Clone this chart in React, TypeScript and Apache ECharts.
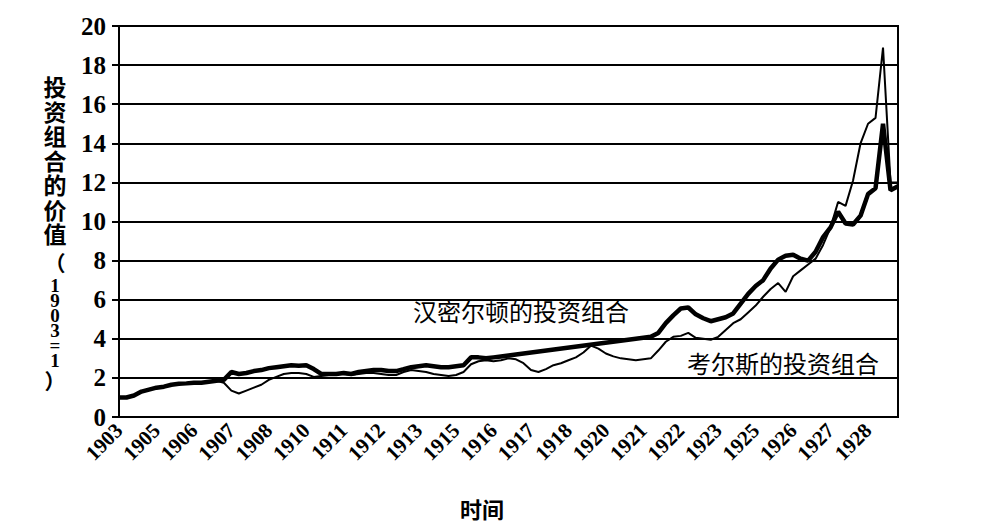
import React, { useEffect, useRef } from "react";
import * as echarts from "echarts";

const yearLabels = [
  "1903", "1905", "1906", "1907", "1908", "1910", "1911", "1912", "1913", "1915", "1916",
  "1917", "1918", "1920", "1921", "1922", "1923", "1925", "1926", "1927", "1928",
];

// Hamilton portfolio (thick line); nulls = straight connected stretch
const hamilton: (number | null)[] = [
  1.0, 1.0, 1.1, 1.3, 1.4, 1.5, 1.55, 1.65, 1.7, 1.72,
  1.75, 1.75, 1.8, 1.85, 1.9, 2.3, 2.2, 2.25, 2.35, 2.4,
  2.5, 2.55, 2.6, 2.65, 2.62, 2.65, 2.45, 2.2, 2.2, 2.2,
  2.25, 2.2, 2.3, 2.35, 2.4, 2.4, 2.35, 2.35, 2.45, 2.55,
  2.6, 2.65, 2.6, 2.55, 2.55, 2.6, 2.65, 3.05, 3.05, 3.0,
  3.05, 3.1, 3.15, 3.2, null, null, null, null, null, null,
  null, null, null, null, null, null, null, null, null, 4.0,
  4.05, 4.1, 4.3, 4.8, 5.2, 5.55, 5.6, 5.25, 5.05, 4.9,
  5.0, 5.1, 5.3, 5.8, 6.3, 6.7, 7.0, 7.6, 8.05, 8.25,
  8.3, 8.1, 8.0, 8.45, 9.2, 9.7, 10.5, 9.9, 9.85, 10.3,
  11.4, 11.7, 15.0, 11.6, 11.8,
];

// Cowles portfolio (thin line)
const cowles: number[] = [
  1.0, 1.0, 1.1, 1.3, 1.4, 1.5, 1.55, 1.65, 1.7, 1.72,
  1.75, 1.75, 1.8, 1.85, 1.75, 1.35, 1.2, 1.35, 1.5, 1.65,
  1.9, 2.05, 2.2, 2.25, 2.25, 2.2, 2.05, 2.1, 2.15, 2.2,
  2.2, 2.15, 2.2, 2.25, 2.25, 2.2, 2.15, 2.15, 2.3, 2.4,
  2.35, 2.3, 2.2, 2.15, 2.1, 2.15, 2.3, 2.7, 2.85, 2.9,
  2.85, 2.9, 3.0, 2.95, 2.75, 2.4, 2.3, 2.45, 2.65, 2.75,
  2.9, 3.05, 3.3, 3.65, 3.5, 3.25, 3.1, 3.0, 2.95, 2.9,
  2.95, 3.0, 3.4, 3.85, 4.1, 4.15, 4.3, 4.05, 4.0, 3.95,
  4.1, 4.45, 4.8, 5.0, 5.35, 5.7, 6.15, 6.55, 6.85, 6.4,
  7.2, 7.5, 7.8, 8.1, 8.8, 9.7, 11.0, 10.8, 12.1, 14.0,
  15.0, 15.3, 18.9, 12.0, 12.0,
];

const yTitleChars = ["投", "资", "组", "合", "的", "价", "值"];
const yTitleUnitChars = ["（", "1", "9", "0", "3", "=", "1", "）"];

const POINTS_PER_LABEL = 5;
const categories = cowles.map((_, i) =>
  i % POINTS_PER_LABEL === 0 ? yearLabels[i / POINTS_PER_LABEL] ?? "" : ""
);

const serif = "Liberation Serif";
const cjk = "Noto Sans CJK SC";

export default function App() {
  const ref = useRef<HTMLDivElement>(null);
  useEffect(() => {
    if (!ref.current) return;
    const chart = echarts.init(ref.current, undefined, { renderer: "svg" });

    const titleGraphics = yTitleChars.map((ch, k) => ({
      type: "text",
      x: 55,
      y: 86 + k * 24.5,
      style: {
        text: ch,
        fontFamily: cjk,
        fontWeight: "bold",
        fontSize: 23,
        fill: "#000",
        align: "center",
        verticalAlign: "middle",
      },
    }));
    const unitYs = [262, 285, 300, 315, 330, 345, 360, 380];
    const unitGraphics = yTitleUnitChars.map((ch, k) => ({
      type: "text",
      x: 55,
      y: unitYs[k],
      style: {
        text: ch,
        fontFamily: k === 0 || k === yTitleUnitChars.length - 1 ? cjk : serif,
        fontWeight: "bold",
        fontSize: k === 0 || k === yTitleUnitChars.length - 1 ? 21 : 19,
        fill: "#000",
        align: "center",
        verticalAlign: "middle",
      },
    }));

    chart.setOption({
      animation: false,
      grid: {
        left: 119,
        right: 99,
        top: 26,
        bottom: 115,
        show: true,
        borderColor: "#000",
        borderWidth: 2,
      },
      xAxis: {
        type: "category",
        boundaryGap: false,
        data: categories,
        axisLine: { lineStyle: { color: "#000", width: 2 } },
        axisTick: { show: false },
        axisLabel: {
          interval: POINTS_PER_LABEL - 1,
          rotate: 45,
          margin: 10,
          showMinLabel: true,
          showMaxLabel: true,
          color: "#000",
          fontFamily: serif,
          fontWeight: "bold",
          fontSize: 21,
        },
      },
      yAxis: {
        type: "value",
        min: 0,
        max: 20,
        interval: 2,
        axisLine: { show: true, lineStyle: { color: "#000", width: 2 } },
        axisTick: { show: true, length: 7, lineStyle: { color: "#000", width: 2 } },
        splitLine: { lineStyle: { color: "#000", width: 2 } },
        axisLabel: {
          margin: 13,
          showMinLabel: true,
          showMaxLabel: true,
          color: "#000",
          fontFamily: serif,
          fontWeight: "bold",
          fontSize: 25,
        },
      },
      series: [
        {
          name: "汉密尔顿的投资组合",
          type: "line",
          data: hamilton,
          connectNulls: true,
          showSymbol: false,
          lineStyle: { color: "#000", width: 4.5 },
          z: 3,
        },
        {
          name: "考尔斯的投资组合",
          type: "line",
          data: cowles,
          showSymbol: false,
          lineStyle: { color: "#000", width: 2 },
          z: 4,
        },
      ],
      graphic: [
        ...titleGraphics,
        ...unitGraphics,
        {
          type: "text",
          x: 413,
          y: 310,
          style: {
            text: "汉密尔顿的投资组合",
            fontFamily: cjk,
            fontSize: 24,
            fill: "#000",
            align: "left",
            verticalAlign: "middle",
          },
        },
        {
          type: "text",
          x: 687,
          y: 362,
          style: {
            text: "考尔斯的投资组合",
            fontFamily: cjk,
            fontSize: 24,
            fill: "#000",
            align: "left",
            verticalAlign: "middle",
          },
        },
        {
          type: "text",
          x: 482,
          y: 508,
          style: {
            text: "时间",
            fontFamily: cjk,
            fontWeight: "bold",
            fontSize: 22,
            fill: "#000",
            align: "center",
            verticalAlign: "middle",
          },
        },
      ],
    });
    return () => chart.dispose();
  }, []);
  return <div ref={ref} style={{ position: "fixed", left: 0, top: 0, width: 997, height: 532, background: "#fff" }} />;
}
